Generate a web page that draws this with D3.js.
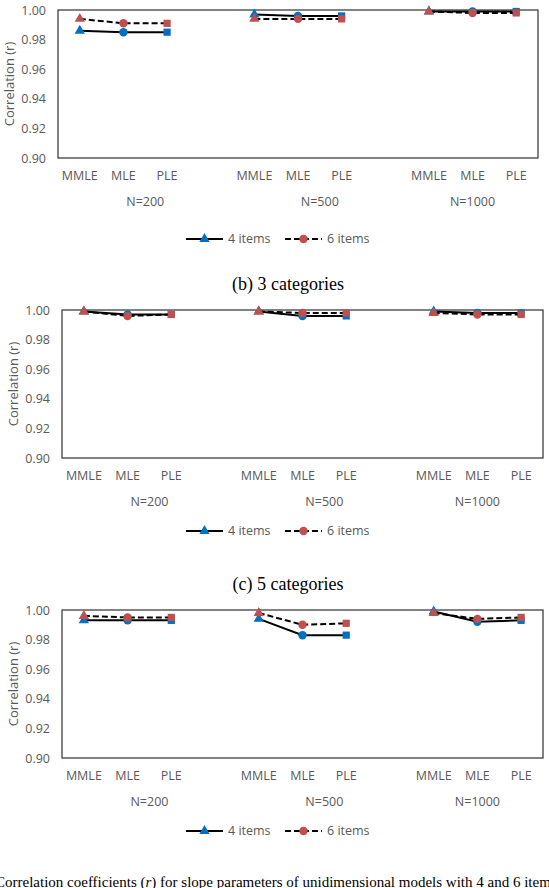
<!DOCTYPE html>
<html>
<head>
<meta charset="utf-8">
<script src="https://cdn.jsdelivr.net/npm/d3@7"></script>
<style>
  body { margin: 0; background: #fff; overflow: hidden; }
  .tick text, .cat, .grp, .leg, .ytitle { font-family: "Open Sans", sans-serif; fill: #595959; }
  .ptitle, .caption { font-family: "Liberation Serif", "Times New Roman", serif; fill: #000; }
</style>
</head>
<body>
<div id="chart"></div>
<script>
var methods = ["MMLE", "MLE", "PLE"],
	sampleSizes = ["N=200", "N=500", "N=1000"],
	seriesNames = ["4 items", "6 items"],
	yTicks = [0.90, 0.92, 0.94, 0.96, 0.98, 1.00];

// values in order N=200 (MMLE, MLE, PLE), N=500 (...), N=1000 (...)
var cat2_4items = [0.986, 0.985, 0.985, 0.997, 0.996, 0.996, 0.999, 0.999, 0.999],
	cat2_6items = [0.994, 0.991, 0.991, 0.994, 0.994, 0.994, 0.999, 0.998, 0.998];
var cat3_4items = [0.999, 0.997, 0.997, 0.999, 0.996, 0.996, 0.999, 0.998, 0.998],
	cat3_6items = [0.999, 0.996, 0.997, 0.999, 0.998, 0.998, 0.998, 0.997, 0.997];
var cat5_4items = [0.993, 0.993, 0.993, 0.994, 0.983, 0.983, 0.999, 0.992, 0.993],
	cat5_6items = [0.996, 0.995, 0.995, 0.998, 0.990, 0.991, 0.998, 0.994, 0.995];

var panelTitles = ["", "(b) 3 categories", "(c) 5 categories"];
var captionText = "Correlation coefficients (r) for slope parameters of unidimensional models with 4 and 6 items";

var panels = [
	{ data: [cat2_4items, cat2_6items], top: 10, bottom: 158, left: 58, right: 538, titleY: 0, catY: 176, grpY: 202, legY: 239 },
	{ data: [cat3_4items, cat3_6items], top: 310, bottom: 458, left: 62, right: 543, titleY: 284, catY: 476, grpY: 502, legY: 531 },
	{ data: [cat5_4items, cat5_6items], top: 610, bottom: 758, left: 62, right: 543, titleY: 584, catY: 776, grpY: 802, legY: 831 }
];

var colors = ["#0070C0", "#C0504D"],
	dashes = [null, "6,3"],
	symbols = [d3.symbolTriangle, d3.symbolCircle, d3.symbolSquare],
	symbolSizes = [46, 56, 52];

var width = 549, height = 888;

// slot keys: three methods per sample size, with an empty slot between groups
var slots = [];
sampleSizes.forEach(function(g, gi) {
	methods.forEach(function(m) { slots.push(g + "|" + m); });
	if (gi < sampleSizes.length - 1) slots.push("gap" + gi);
});

var svg = d3.select("#chart").append("svg")
	.attr("width", width)
	.attr("height", height);

panels.forEach(function(p, pi) {
	var x = d3.scaleBand().domain(slots).range([p.left, p.right]);
	var y = d3.scaleLinear().domain([0.90, 1.00]).range([p.bottom, p.top]);
	var g = svg.append("g");

	if (panelTitles[pi]) {
		g.append("text")
			.attr("class", "ptitle")
			.attr("x", 288)
			.attr("y", p.titleY)
			.attr("dy", "0.35em")
			.style("font-size", "18px")
			.style("text-anchor", "middle")
			.text(panelTitles[pi]);
	}

	// y axis labels
	var yAxis = g.append("g")
		.attr("transform", "translate(" + (p.left - 12) + ",0)")
		.call(d3.axisLeft(y).tickValues(yTicks).tickFormat(d3.format(".2f")).tickSize(0).tickPadding(0));
	yAxis.select(".domain").remove();
	yAxis.selectAll("text").style("font-size", "12.5px");

	g.append("text")
		.attr("class", "ytitle")
		.attr("transform", "translate(" + (p.left - 49) + "," + ((p.top + p.bottom) / 2) + ") rotate(-90)")
		.attr("dy", "0.35em")
		.style("font-size", "13px")
		.style("text-anchor", "middle")
		.text("Correlation (r)");

	// plot border
	g.append("rect")
		.attr("x", p.left)
		.attr("y", p.top)
		.attr("width", p.right - p.left)
		.attr("height", p.bottom - p.top)
		.attr("fill", "none")
		.attr("stroke", "#404040")
		.attr("stroke-width", 1.3);

	// category labels
	g.selectAll("text.cat").data(slots.filter(function(s) { return s.indexOf("|") > 0; }))
		.enter().append("text")
		.attr("class", "cat")
		.attr("x", function(d) { return x(d) + x.bandwidth() / 2; })
		.attr("y", p.catY)
		.attr("dy", "0.35em")
		.style("font-size", "12.5px")
		.style("text-anchor", "middle")
		.text(function(d) { return d.split("|")[1]; });

	// group labels span their methods plus the following gap
	g.selectAll("text.grp").data(sampleSizes)
		.enter().append("text")
		.attr("class", "grp")
		.attr("x", function(d, i) {
			var first = x(d + "|" + methods[0]);
			var last = i < sampleSizes.length - 1 ? x("gap" + i) : x(d + "|" + methods[methods.length - 1]);
			return (first + last + x.bandwidth()) / 2;
		})
		.attr("y", p.grpY)
		.attr("dy", "0.35em")
		.style("font-size", "12.5px")
		.style("text-anchor", "middle")
		.text(function(d) { return d; });

	// series lines and markers
	p.data.forEach(function(vals, si) {
		var pts = vals.map(function(v, i) {
			var grp = sampleSizes[Math.floor(i / methods.length)], m = i % methods.length;
			return { key: grp + "|" + methods[m], m: m, grp: grp, v: v };
		});
		sampleSizes.forEach(function(grp) {
			var seg = pts.filter(function(d) { return d.grp === grp; });
			g.append("path")
				.datum(seg)
				.attr("fill", "none")
				.attr("stroke", "#000")
				.attr("stroke-width", 2)
				.attr("stroke-dasharray", dashes[si])
				.attr("d", d3.line()
					.x(function(d) { return x(d.key) + x.bandwidth() / 2; })
					.y(function(d) { return y(d.v); }));
		});
		g.selectAll("path.mk" + si).data(pts)
			.enter().append("path")
			.attr("class", "mk" + si)
			.attr("transform", function(d) { return "translate(" + (x(d.key) + x.bandwidth() / 2) + "," + y(d.v) + ")"; })
			.attr("d", function(d) { return d3.symbol().type(symbols[d.m]).size(symbolSizes[d.m])(); })
			.attr("fill", colors[si]);
	});

	// legend
	var legX = [186, 285];
	seriesNames.forEach(function(name, si) {
		var lg = g.append("g").attr("transform", "translate(" + legX[si] + "," + p.legY + ")");
		lg.append("line")
			.attr("x1", 0).attr("x2", 37)
			.attr("stroke", "#000")
			.attr("stroke-width", 2)
			.attr("stroke-dasharray", dashes[si]);
		lg.append("path")
			.attr("transform", "translate(18.5,0)")
			.attr("d", d3.symbol().type(symbols[si]).size(symbolSizes[si])())
			.attr("fill", colors[si]);
		lg.append("text")
			.attr("class", "leg")
			.attr("x", 42)
			.attr("dy", "0.35em")
			.style("font-size", "12.5px")
			.text(name);
	});
});

// caption, with r in italics
var cap = svg.append("text")
	.attr("class", "caption")
	.attr("x", -5)
	.attr("y", 882)
	.attr("dy", "0.35em")
	.style("font-size", "15px");
var parts = captionText.split("(r)");
cap.append("tspan").text(parts[0] + "(");
cap.append("tspan").style("font-style", "italic").text("r");
cap.append("tspan").text(")" + parts[1]);
</script>
</body>
</html>
